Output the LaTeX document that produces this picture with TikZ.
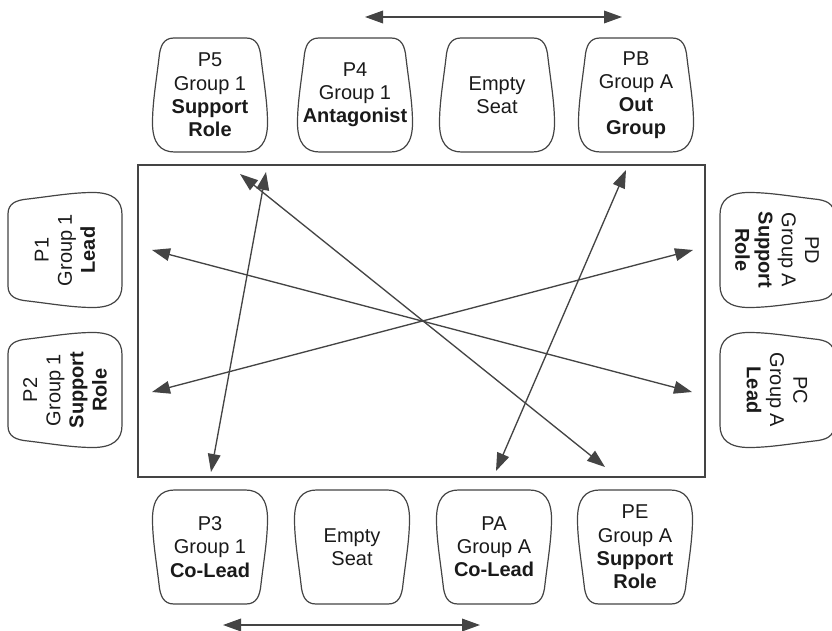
\documentclass[tikz,border=0pt]{standalone}
\usepackage{fontspec}
\setmainfont{Liberation Sans}
\usetikzlibrary{arrows.meta}

\definecolor{inkline}{HTML}{444444}
\definecolor{inktext}{HTML}{1A1A1A}

\tikzset{
  seatline/.style={draw=inkline, line width=0.9pt},
  seattext/.style={inner sep=0pt, align=center, text=inktext,
    font=\fontsize{15}{17.4}\selectfont},
  tableline/.style={draw=inkline, line width=1.1pt},
  conn/.style={draw=inkline, line width=1pt,
    {Triangle[length=13.5pt,width=9.5pt]}-{Triangle[length=13.5pt,width=9.5pt]}},
  % chair seat: narrow rounded back on top, wider front below
  seat/.pic={
    \path[seatline]
      (-36,-57) -- (36,-57)
      .. controls (46.5,-57) and (50,-49) .. (51,-37)
      .. controls (54,-12) and (57.5,8) .. (57.5,28)
      .. controls (57.5,48) and (49.5,57) .. (35.5,57)
      -- (-35.5,57)
      .. controls (-49.5,57) and (-57.5,48) .. (-57.5,28)
      .. controls (-57.5,8) and (-54,-12) .. (-51,-37)
      .. controls (-50,-49) and (-46.5,-57) .. (-36,-57) -- cycle;
  }
}

\begin{document}
\begin{tikzpicture}[x=0.75pt, y=-0.75pt]
\useasboundingbox (0,0) rectangle (832,631);

% table
\draw[tableline] (138,165) rectangle (705,477);

% seats along the top edge
\node[seattext] (p5) at (210,95) {P5\\Group 1\\\textbf{Support}\\\textbf{Role}};
\node[seattext] (p4) at (355,95) {P4\\Group 1\\\textbf{Antagonist}};
\node[seattext] (etop) at (497,95) {Empty\\Seat};
\node[seattext] (pb) at (636,95) {PB\\Group A\\\textbf{Out}\\\textbf{Group}};
\foreach \n in {p5,p4,etop,pb} \pic at (\n) {seat};

% seats along the bottom edge
\node[seattext] (p3) at (210,547) {P3\\Group 1\\\textbf{Co-Lead}};
\node[seattext] (ebot) at (352,547) {Empty\\Seat};
\node[seattext] (pa) at (494,547) {PA\\Group A\\\textbf{Co-Lead}};
\node[seattext] (pe) at (635,547) {PE\\Group A\\\textbf{Support}\\\textbf{Role}};
\foreach \n in {p3,ebot,pa,pe} \pic[rotate=180] at (\n) {seat};

% seats on the left end
\node[seattext, rotate=90] (p1) at (65,250) {P1\\Group 1\\\textbf{Lead}};
\node[seattext, rotate=90] (p2) at (65,390) {P2\\Group 1\\\textbf{Support}\\\textbf{Role}};
\foreach \n in {p1,p2} \pic[rotate=90] at (\n) {seat};

% seats on the right end
\node[seattext, rotate=-90] (pd) at (777,250) {PD\\Group A\\\textbf{Support}\\\textbf{Role}};
\node[seattext, rotate=-90] (pc) at (777,390) {PC\\Group A\\\textbf{Lead}};
\foreach \n in {pd,pc} \pic[rotate=-90] at (\n) {seat};

% arrow ends inside the table
\coordinate (p1 end) at (152,250);
\coordinate (p2 end) at (152,392);
\coordinate (pc end) at (692,392);
\coordinate (pd end) at (693,250);
\coordinate (p5 end) at (240,174);
\coordinate (pe end) at (605,467);
\coordinate (p4 end) at (266,172);
\coordinate (p3 end) at (211,472);
\coordinate (pb end) at (626,170);
\coordinate (pa end) at (496,471);

% arrow ends above and below the rows
\coordinate (top left) at (365,17);
\coordinate (top right) at (622,17);
\coordinate (bot left) at (223,625);
\coordinate (bot right) at (480,625);

% interactions across the table
\draw[conn] (p1 end) -- (pc end);
\draw[conn] (p2 end) -- (pd end);
\draw[conn] (p5 end) -- (pe end);
\draw[conn] (p4 end) -- (p3 end);
\draw[conn] (pb end) -- (pa end);

% exchanges along each row
\draw[conn] (top left) -- (top right);
\draw[conn] (bot left) -- (bot right);
\end{tikzpicture}
\end{document}
